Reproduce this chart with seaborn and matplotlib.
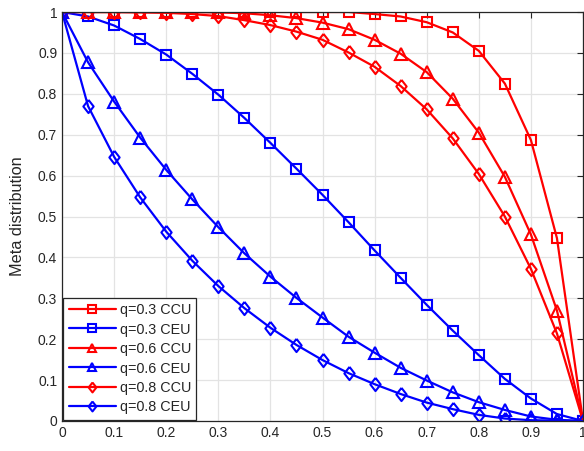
import matplotlib
matplotlib.use("Agg")
import matplotlib.pyplot as plt
import seaborn as sns
import numpy as np

x = [0, 0.05, 0.1, 0.15, 0.2, 0.25, 0.3, 0.35, 0.4, 0.45, 0.5,
     0.55, 0.6, 0.65, 0.7, 0.75, 0.8, 0.85, 0.9, 0.95, 1.0]

ccu_03 = [1, 1, 1, 1, 1, 1, 1, 1, 1, 1, 1, 1, 0.995, 0.989, 0.975, 0.950,
          0.905, 0.825, 0.687, 0.447, 0]
ceu_03 = [1, 0.989, 0.967, 0.934, 0.896, 0.849, 0.798, 0.741, 0.680, 0.617,
          0.553, 0.486, 0.417, 0.350, 0.284, 0.221, 0.161, 0.103, 0.055, 0.017, 0]
ccu_06 = [1, 1, 1, 1, 1, 1, 0.999, 0.997, 0.992, 0.985, 0.974, 0.958, 0.932,
          0.898, 0.853, 0.788, 0.705, 0.597, 0.456, 0.270, 0]
ceu_06 = [1, 0.877, 0.781, 0.693, 0.614, 0.542, 0.474, 0.410, 0.353, 0.301,
          0.253, 0.206, 0.167, 0.130, 0.099, 0.070, 0.046, 0.027, 0.011, 0.003, 0]
ccu_08 = [1, 1, 1, 0.999, 0.998, 0.995, 0.990, 0.980, 0.968, 0.952, 0.932,
          0.901, 0.866, 0.819, 0.762, 0.691, 0.604, 0.500, 0.372, 0.214, 0]
ceu_08 = [1, 0.770, 0.646, 0.547, 0.463, 0.392, 0.330, 0.276, 0.228, 0.186,
          0.149, 0.117, 0.090, 0.066, 0.045, 0.029, 0.015, 0.006, 0.002, 0.001, 0]

labels = ["q=0.3 CCU", "q=0.3 CEU", "q=0.6 CCU", "q=0.6 CEU", "q=0.8 CCU", "q=0.8 CEU"]
series = [ccu_03, ceu_03, ccu_06, ceu_06, ccu_08, ceu_08]
colors = ["#ff0000", "#0000ff"] * 3

diamond = [(0, 1), (0.78, 0), (0, -1), (-0.78, 0), (0, 1)]
markers = ["s", "s", "^", "^", diamond, diamond]
msizes = [7, 7, 8.5, 8.5, 9.5, 9.5]

tick_vals = [0, 0.1, 0.2, 0.3, 0.4, 0.5, 0.6, 0.7, 0.8, 0.9, 1.0]
tick_labels = ["0", "0.1", "0.2", "0.3", "0.4", "0.5", "0.6", "0.7", "0.8", "0.9", "1"]

sns.set_style("white")
plt.rcParams["font.family"] = ["Liberation Sans", "DejaVu Sans"]

fig = plt.figure(figsize=(5.84, 4.51), dpi=100)
ax = fig.add_axes([62 / 584, 30 / 451, 521 / 584, 409 / 451])

for y, lab, c, m, ms in zip(series, labels, colors, markers, msizes):
    sns.lineplot(x=x, y=y, ax=ax, color=c, label=lab, marker=m, markersize=ms,
                 markerfacecolor="none", markeredgecolor=c, markeredgewidth=1.5,
                 linewidth=1.6, sort=False)

ax.set_xlim(0, 1)
ax.set_ylim(0, 1)
ax.set_xticks(tick_vals)
ax.set_xticklabels(tick_labels)
ax.set_yticks(tick_vals)
ax.set_yticklabels(tick_labels)
ax.grid(True, color="#e3e3e3", linewidth=0.9)
ax.set_axisbelow(True)
ax.tick_params(direction="in", length=4, width=0.8, colors="#262626",
               labelsize=10, top=True, right=True, labelcolor="#262626")
for s in ax.spines.values():
    s.set_visible(True)
    s.set_color("#262626")
    s.set_linewidth(0.9)
ax.set_ylabel("Meta distribution", fontsize=11.7, color="#262626")
ax.yaxis.set_label_coords(-(62 - 25) / 521, 0.5)
ax.set_xlabel("")

leg = ax.legend(loc="lower left", borderaxespad=0.1, fontsize=10.4, frameon=True,
                fancybox=False, edgecolor="#262626", handlelength=3.3,
                handletextpad=0.25, labelspacing=0.38, borderpad=0.35,
                markerscale=0.75)
leg.get_frame().set_linewidth(0.9)
leg.get_frame().set_alpha(1)

fig.savefig("out.png", dpi=100)
